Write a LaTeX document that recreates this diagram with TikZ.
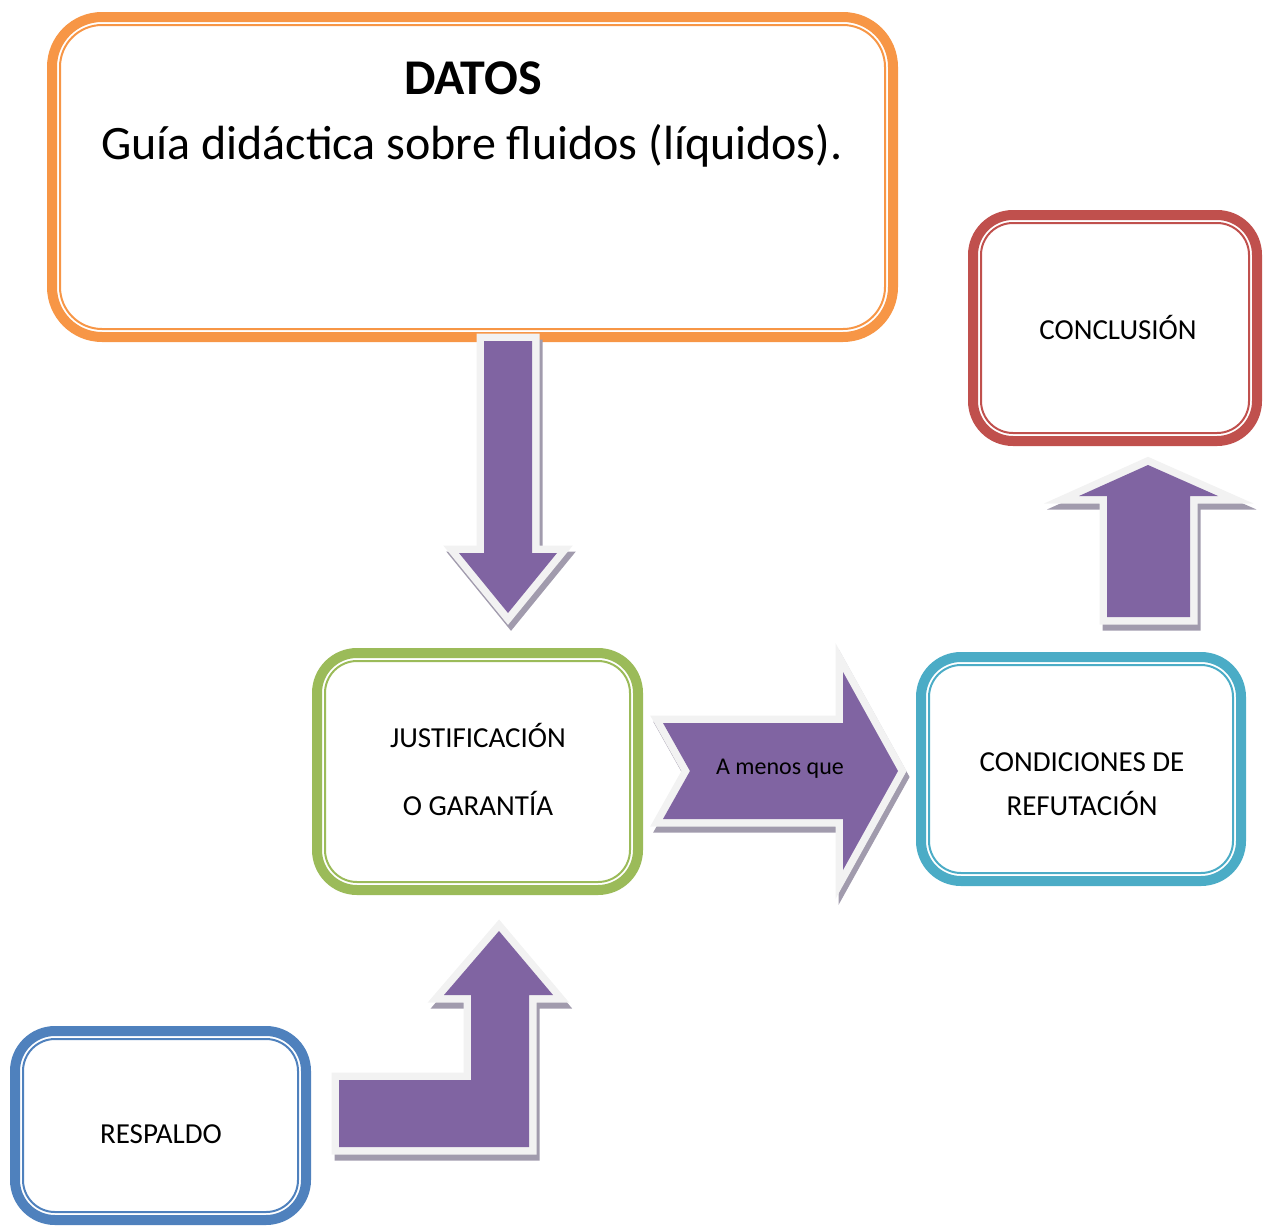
\documentclass[tikz,border=0pt]{standalone}
\usepackage{fontspec}
\setmainfont{Carlito}
\usetikzlibrary{calc}
\definecolor{naranja}{HTML}{F79646}
\definecolor{rojo}{HTML}{C0504D}
\definecolor{verde}{HTML}{9BBB59}
\definecolor{celeste}{HTML}{4BACC6}
\definecolor{azul}{HTML}{4F81BD}
\definecolor{morado}{HTML}{8064A2}
\definecolor{borde}{HTML}{F2F2F2}
\definecolor{sombra}{HTML}{A19BAD}
\begin{document}
\begin{tikzpicture}[x=1pt, y=-1pt, line join=miter,
	caja/.style={draw=#1, line width=10pt, rounded corners=40pt, outer sep=0pt, inner sep=0pt},
	flecha/.style={fill=morado,
		preaction={draw=sombra, fill=sombra, line width=15pt, transform canvas={shift={(3pt,-6pt)}}},
		preaction={draw=borde, fill=borde, line width=15pt}},
	texto/.style={font=\fontsize{29}{34}\selectfont}]
	\useasboundingbox (0,0) rectangle (1263,1226);
	% cajas
	\node[caja=naranja, rounded corners=50pt, minimum width=841pt, minimum height=320pt] (datos) at (472.5,177) {};
	\node[caja=rojo, minimum width=284pt, minimum height=226pt] (conclusion) at (1115,328) {};
	\node[caja=verde, minimum width=321pt, minimum height=237pt] (justificacion) at (477.5,771.5) {};
	\node[caja=celeste, minimum width=320pt, minimum height=224pt] (condiciones) at (1081,769) {};
	\node[caja=azul, minimum width=291pt, minimum height=189pt] (respaldo) at (160.5,1125.5) {};
	\foreach \n/\c/\r in {datos/naranja/42,conclusion/rojo/32,justificacion/verde/32,condiciones/celeste/32,respaldo/azul/32}
	\draw[\c, line width=2pt, rounded corners=\r pt] ($(\n.north west)+(8,8)$) rectangle ($(\n.south east)+(-8,-8)$);
	% textos
	\node[font=\fontsize{50}{60}\selectfont\bfseries] (tdatos) at (473,78) {DATOS};
	\node[font=\fontsize{48}{58}\selectfont] (tguia) at (472,146) {Guía didáctica sobre fluidos (líquidos).};
	\node[texto] (tconclusion) at (1118,327) {CONCLUSIÓN};
	\node[texto] (tjust) at (478,735) {JUSTIFICACIÓN};
	\node[texto] (tgarantia) at (478,803) {O GARANTÍA};
	\node[texto] (tcond) at (1082,762) {CONDICIONES DE};
	\node[texto] (trefut) at (1082,803) {REFUTACIÓN};
	\node[texto] (trespaldo) at (161,1134) {RESPALDO};
	% flechas
	\path[flecha] (484,341) -- (532,341) -- (532,553) -- (557,553) -- (508,613) -- (459,553) -- (484,553) -- cycle;
	\path[flecha] (663,723) -- (843,723) -- (843,672) -- (898,771) -- (843,870) -- (843,819) -- (663,819) -- (690,771) -- cycle;
	\path[flecha] (1107,617) -- (1107,496) -- (1079,496) -- (1148,465) -- (1218,496) -- (1190,496) -- (1190,617) -- cycle;
	\path[flecha] (339,1147) -- (339,1080) -- (471,1080) -- (471,995) -- (444,995) -- (499,931) -- (553,995) -- (529,995) -- (529,1147) -- cycle;
	\node[font=\fontsize{24}{29}\selectfont] (tmenos) at (780,769) {A menos que};
\end{tikzpicture}
\end{document}
